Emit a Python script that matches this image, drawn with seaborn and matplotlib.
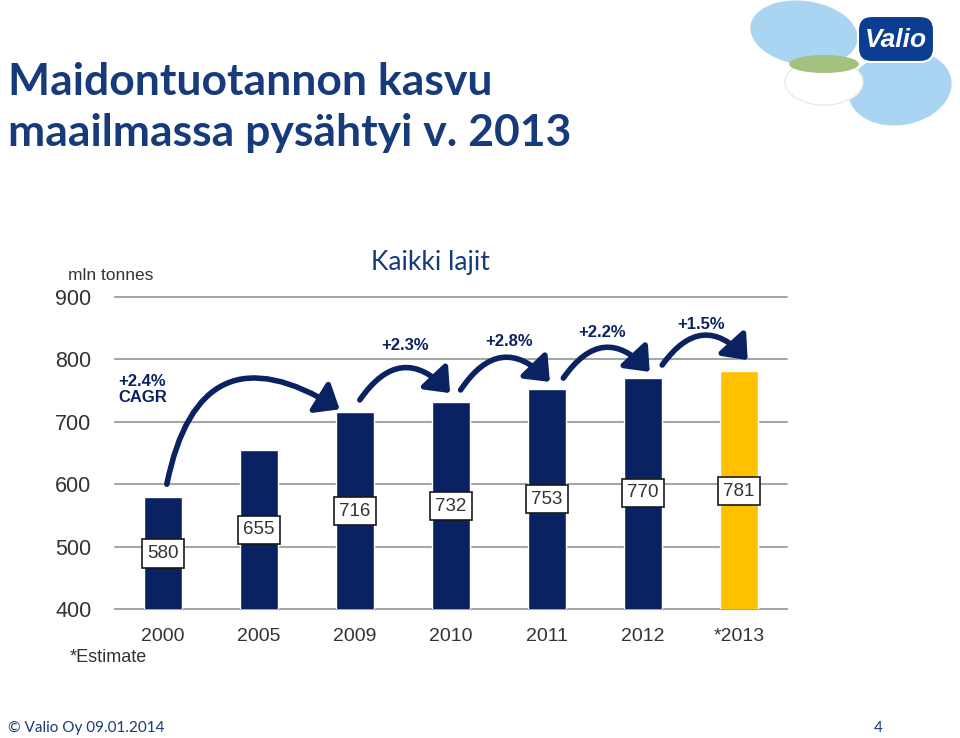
import matplotlib
matplotlib.use("Agg")
import matplotlib.pyplot as plt
import matplotlib.patches as mpatches
import seaborn as sns
import pandas as pd

years = ["2000", "2005", "2009", "2010", "2011", "2012", "*2013"]
production = [580, 655, 716, 732, 753, 770, 781]
is_estimate = [False, False, False, False, False, False, True]
label_y = [489, 527, 557, 565, 576, 586, 589]

growth_labels = ["+2.3%", "+2.8%", "+2.2%", "+1.5%"]
yticks = [400, 500, 600, 700, 800, 900]

NAVY = "#0b2262"
GOLD = "#ffc000"
GRID = "#a6a6a6"
TITLE_BLUE = "#173a7a"

sns.set_theme(style="white")
plt.rcParams["font.family"] = ["Liberation Sans", "DejaVu Sans"]

fig = plt.figure(figsize=(9.6, 7.38), dpi=100)
ax = fig.add_axes([115 / 960, 1 - 609 / 738, 672 / 960, 312 / 738])

df = pd.DataFrame({"year": years, "value": production})
palette = [GOLD if e else NAVY for e in is_estimate]
sns.barplot(data=df, x="year", y="value", hue="year", palette=palette,
            width=0.4, legend=False, ax=ax, saturation=1, zorder=3)

ax.set_ylim(400, 900)
ax.set_xlim(-0.5, len(years) - 0.5)
ax.set_yticks(yticks)
ax.set_xlabel("")
ax.set_ylabel("")
for s in ["top", "right", "left"]:
    ax.spines[s].set_visible(False)
ax.spines["bottom"].set_color(GRID)
ax.spines["bottom"].set_linewidth(1.5)
for t in yticks[1:]:
    ax.axhline(t, color=GRID, lw=1.5, zorder=1, clip_on=False)
ax.tick_params(axis="y", length=0, pad=17, labelsize=15.5, labelcolor="#333333")
ax.tick_params(axis="x", which="major", length=0, pad=14, labelsize=14,
               labelcolor="#333333")
ax.set_xticks([i + 0.5 for i in range(-1, len(years))], minor=True)
ax.tick_params(axis="x", which="minor", length=7, width=1.2, color=GRID)

# value boxes
for i, (v, ly) in enumerate(zip(production, label_y)):
    ax.text(i, ly, str(v), ha="center", va="center", fontsize=13.5,
            color="#333333", zorder=5,
            bbox=dict(boxstyle="square,pad=0.3", fc="white", ec="#1a1a1a", lw=1.2))

# growth arrows
arrow_kw = dict(arrowstyle="-|>,head_length=0.55,head_width=0.45", color=NAVY,
                lw=4, mutation_scale=24, shrinkA=0, shrinkB=0)
ax.annotate("", xy=(1.84, 720), xytext=(0.04, 600),
            arrowprops=dict(connectionstyle="arc3,rad=-0.72", **arrow_kw), zorder=6)
ax.text(-0.47, 752, "+2.4%\nCAGR", fontsize=12, fontweight="bold", color=NAVY,
        va="center", ha="left", linespacing=1.05)

starts = [(2.05, 735), (3.10, 751), (4.17, 770), (5.20, 791)]
ends = [(2.99, 746), (4.03, 764), (5.07, 780), (6.09, 799)]
text_pos = [(2.52, 823), (3.60, 829), (4.57, 843), (5.61, 856)]
for (sx, sy), (ex, ey), (tx, ty), g in zip(starts, ends, text_pos, growth_labels):
    ax.annotate("", xy=(ex, ey), xytext=(sx, sy),
                arrowprops=dict(connectionstyle="arc3,rad=-0.62", **arrow_kw),
                zorder=6)
    ax.text(tx, ty, g, fontsize=12, fontweight="bold", color=NAVY,
            ha="center", va="center")

# texts
title_font = ["Lato", "DejaVu Sans"]
fig.text(8 / 960, 1 - 95 / 738, "Maidontuotannon kasvu", fontsize=32,
         fontweight="bold", color=TITLE_BLUE, ha="left", va="baseline",
         family=title_font)
fig.text(8 / 960, 1 - 146 / 738, "maailmassa pysähtyi v. 2013", fontsize=32,
         fontweight="bold", color=TITLE_BLUE, ha="left", va="baseline",
         family=title_font)
fig.text(430 / 960, 1 - 262 / 738, "Kaikki lajit", fontsize=19, color=TITLE_BLUE,
         ha="center", va="center", family=title_font)
fig.text(68 / 960, 1 - 276 / 738, "mln tonnes", fontsize=12.5, color="#333333",
         ha="left", va="center")
fig.text(70 / 960, 1 - 657 / 738, "*Estimate", fontsize=13, color="#333333",
         ha="left", va="center")
fig.text(8 / 960, 1 - 728 / 738, "© Valio Oy 09.01.2014", fontsize=11,
         color=TITLE_BLUE, ha="left", va="center", family=title_font)
fig.text(878 / 960, 1 - 728 / 738, "4", fontsize=11, color=TITLE_BLUE,
         ha="center", va="center", family=title_font)

# logo
lax = fig.add_axes([740 / 960, 1 - 130 / 738, 220 / 960, 130 / 738])
lax.set_xlim(0, 220)
lax.set_ylim(130, 0)
lax.axis("off")
lax.add_patch(mpatches.Ellipse((64, 33), 108, 64, angle=8, fc="#a9d4f2", ec="none"))
lax.add_patch(mpatches.Ellipse((160, 88), 104, 74, angle=-10, fc="#a9d4f2", ec="none"))
lax.add_patch(mpatches.Ellipse((84, 82), 78, 46, fc="white", ec="#e8eee0", lw=1))
lax.add_patch(mpatches.Ellipse((84, 64), 70, 18, fc="#a3c27f", ec="none"))
lax.add_patch(mpatches.FancyBboxPatch((120, 18), 72, 42,
                                      boxstyle="round,pad=2,rounding_size=14",
                                      fc="#0b3d91", ec="white", lw=1.5))
lax.text(156, 40, "Valio", fontsize=19, color="white", fontstyle="italic",
         fontweight="bold", ha="center", va="center")

fig.savefig("out.png", dpi=100)
